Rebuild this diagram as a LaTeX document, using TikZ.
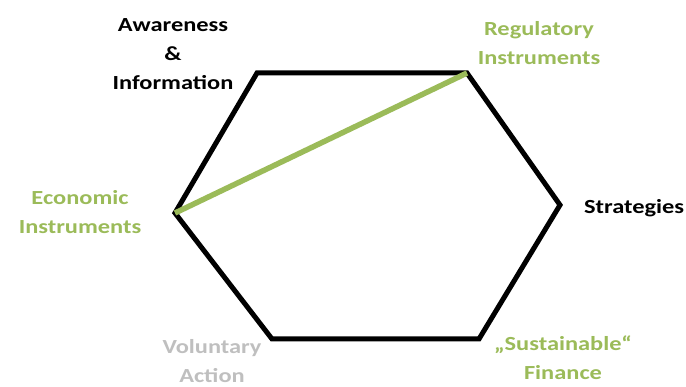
\documentclass[tikz,border=0pt]{standalone}
\usepackage{fontspec}
\setmainfont{Carlito}[FakeStretch=1.22]
\definecolor{leafgreen}{HTML}{9BBB59}
\definecolor{softgrey}{HTML}{BFBFBF}
\begin{document}
\begin{tikzpicture}[x=1pt,y=-1pt,
  edge/.style={line width=5pt,line join=miter,black},
  link/.style={line width=5.5pt,leafgreen},
  lbl/.style={font=\bfseries\fontsize{20}{29}\selectfont,align=center,inner sep=0pt}]
\useasboundingbox (0,0) rectangle (686,387);
% hexagon corners
\coordinate (tl) at (257,73);
\coordinate (tr) at (467,73);
\coordinate (r)  at (560,205);
\coordinate (br) at (479,339);
\coordinate (bl) at (272,339);
\coordinate (l)  at (175,213);
\draw[edge] (tl) -- (tr) -- (r) -- (br) -- (bl) -- (l) -- cycle;
\draw[link] (l) -- (tr);
% labels
\node[lbl] (aw) at (173,54) {Awareness\\\&\\Information};
\node[lbl,text=leafgreen] (reg) at (539,43) {Regulatory\\Instruments};
\node[lbl,anchor=west] (str) at (584,208) {Strategies};
\node[lbl,text=leafgreen] (eco) at (80,212) {Economic\\Instruments};
\node[lbl,text=softgrey] (vol) at (212,361) {Voluntary\\Action};
\node[lbl,text=leafgreen] (fin) at (563,358) {„Sustainable“\\Finance};
\end{tikzpicture}
\end{document}
